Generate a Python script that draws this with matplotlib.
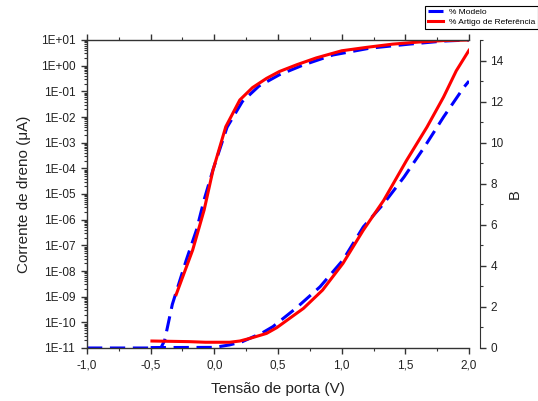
import numpy as np
import matplotlib
matplotlib.use("Agg")
import matplotlib.pyplot as plt
from matplotlib.ticker import FuncFormatter, MultipleLocator, LogLocator, NullFormatter

plt.rcParams['font.family'] = ['Liberation Sans', 'DejaVu Sans']

# corrente de dreno (escala log, eixo esquerdo)
vg_mod_log = [-1.0, -0.8, -0.6, -0.42, -0.39, -0.33, -0.22, -0.14, -0.08, -0.01,
              0.1, 0.22, 0.35, 0.51, 0.7, 0.93, 1.22, 1.53, 1.8, 2.0]
id_mod = [1e-11, 1e-11, 1e-11, 1e-11, 2e-11, 5e-10, 2.7e-8, 4e-7, 6e-6, 9e-5,
          4e-3, 4e-2, 0.16, 0.44, 1.07, 2.6, 4.8, 6.9, 9.1, 10]

vg_ref_log = [-0.30, -0.17, -0.08, -0.01, 0.09, 0.2, 0.3, 0.41, 0.51, 0.65,
              0.8, 1.0, 1.2, 1.4, 1.6, 1.8, 2.0]
id_ref = [1.2e-9, 6.6e-8, 2.4e-6, 8.7e-5, 4.2e-3, 4.6e-2, 0.14, 0.32, 0.59, 1.1,
          2.0, 3.8, 5.2, 6.9, 8.3, 9.5, 10]

# B (escala linear, eixo direito)
vg_mod_lin = [-0.5, 0.0, 0.12, 0.22, 0.38, 0.46, 0.64, 0.83, 1.01, 1.17,
              1.33, 1.49, 1.65, 1.8, 1.96, 2.0]
b_mod = [0.02, 0.03, 0.15, 0.31, 0.75, 1.04, 1.93, 2.98, 4.28, 5.9,
         7.03, 8.33, 9.79, 11.25, 12.7, 13.0]

vg_ref_lin = [-0.49, -0.2, -0.07, 0.12, 0.2, 0.28, 0.41, 0.49, 0.7, 0.85,
              1.01, 1.17, 1.33, 1.51, 1.67, 1.8, 1.9, 2.0]
b_ref = [0.34, 0.31, 0.28, 0.28, 0.34, 0.47, 0.71, 0.99, 1.93, 2.82,
         4.12, 5.74, 7.19, 9.14, 10.76, 12.22, 13.5, 14.5]

cor_txt = '#222222'
azul = '#0000FF'
verm = '#FF0000'

fig = plt.figure(figsize=(5.38, 4.01), dpi=100)
ax = fig.add_axes([87/538, 1-348/401, (469-87)/538, (348-40)/401])
ax2 = ax.twinx()

ax.plot(vg_mod_log, id_mod, color=azul, lw=2.2, dashes=(5, 2.5))
ax.plot(vg_ref_log, id_ref, color=verm, lw=2.2)
ax2.plot(vg_mod_lin, b_mod, color=azul, lw=2.2, dashes=(5, 2.5), label='% Modelo')
ax2.plot(vg_ref_lin, b_ref, color=verm, lw=2.2, label='% Artigo de Referência')

ax.set_yscale('log')
ax.set_ylim(1e-11, 1e1)
ax.set_xlim(-1.0, 2.0)
ax2.set_ylim(0, 15)

ax.xaxis.set_major_locator(MultipleLocator(0.5))
ax.xaxis.set_minor_locator(MultipleLocator(0.25))
ax.xaxis.set_major_formatter(FuncFormatter(lambda v, p: f"{v:.1f}".replace('.', ',')))
ax.yaxis.set_major_locator(LogLocator(base=10, numticks=20))
ax.yaxis.set_minor_locator(LogLocator(base=10, subs=np.arange(2, 10), numticks=20))
ax.yaxis.set_minor_formatter(NullFormatter())
ax.yaxis.set_major_formatter(FuncFormatter(lambda v, p: f"1E{int(round(np.log10(v))):+03d}"))

ax2.yaxis.set_major_locator(MultipleLocator(2))
ax2.yaxis.set_minor_locator(MultipleLocator(1))

for s in ['left', 'top', 'bottom']:
    ax.spines[s].set_color('#333333')
    ax.spines[s].set_linewidth(1.0)
ax.spines['right'].set_visible(False)
for s in ['left', 'top', 'bottom']:
    ax2.spines[s].set_visible(False)
ax2.spines['right'].set_position(('outward', 8))
ax2.spines['right'].set_color('#333333')

ax.tick_params(which='both', direction='out', top=True, right=False,
               colors='#333333', labelcolor=cor_txt, labelsize=8.5)
ax.tick_params(which='major', length=4.5, width=1.0)
ax.tick_params(which='minor', length=2.5, width=0.8)
ax.tick_params(axis='y', pad=4)
ax2.tick_params(which='both', direction='out', colors='#333333',
                labelcolor=cor_txt, labelsize=8.5)
ax2.tick_params(which='major', length=4.5, width=1.0, pad=3)
ax2.tick_params(which='minor', length=2.5, width=0.8)

ax.set_xlabel('Tensão de porta (V)', fontsize=11, color=cor_txt, labelpad=8)
ax.set_ylabel('Corrente de dreno (μA)', fontsize=11, color=cor_txt, labelpad=7)
ax2.set_ylabel('B', fontsize=10.5, color=cor_txt, labelpad=3)

leg = ax2.legend(loc='upper left', bbox_to_anchor=(425/538, 1-6/401),
                 bbox_transform=fig.transFigure, fontsize=6, frameon=True,
                 fancybox=False, edgecolor='black', framealpha=1,
                 borderaxespad=0, borderpad=0.3, handlelength=1.8,
                 handletextpad=0.8, labelspacing=0.25)
leg.get_frame().set_linewidth(0.8)

fig.savefig('out.png', dpi=100)
